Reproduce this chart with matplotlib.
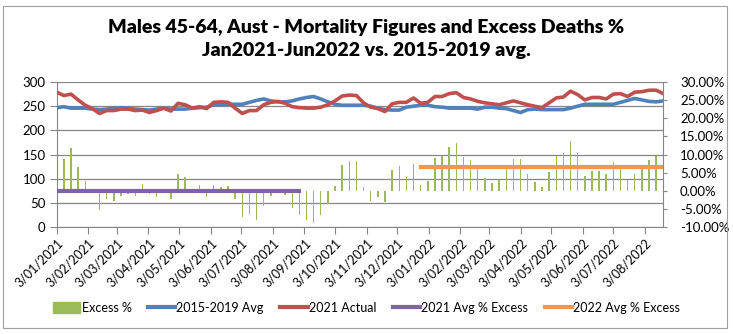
import matplotlib.pyplot as plt
from matplotlib.lines import Line2D
from matplotlib.patches import Patch, Rectangle
import numpy as np
import pandas as pd

plt.rcParams['font.family'] = ['Lato', 'DejaVu Sans']

# weekly series, Jan 2021 - Aug 2022
weeks = pd.date_range('2021-01-03', periods=86, freq='7D')

excess_pct = [
    12.8, 8.7, 11.7, 6.5, 2.7, 0.2, -5.2, -2.2, -2.8, -1.4,
    -0.8, -1.4, 1.8, -0.8, -1.7, 0.2, -2.2, 4.6, 3.8, 0.2,
    1.6, -1.7, 1.6, 1.0, 1.3, -2.2, -7.2, -6.3, -8.0, -4.1,
    -1.4, -0.6, -1.1, -4.7, -6.6, -8.0, -8.8, -6.6, -3.5, 1.3,
    7.1, 8.2, 8.2, 1.0, -2.8, -1.7, -3.0, 5.7, 6.8, 3.8,
    7.3, 1.6, 2.7, 9.0, 9.5, 12.0, 13.1, 9.3, 8.4, 6.5,
    3.5, 2.1, 2.9, 6.0, 8.7, 8.7, 4.6, 2.4, 1.0, 5.1,
    9.5, 10.4, 13.7, 10.4, 4.0, 5.4, 5.4, 4.6, 7.9, 6.2,
    2.9, 4.6, 6.2, 8.4, 9.5, np.nan,
]

avg_2015_2019 = [
    247, 249, 246, 246, 246, 244, 243, 244, 246, 247,
    246, 244, 243, 242, 244, 246, 244, 244, 244, 246,
    247, 248, 253, 254, 254, 254, 254, 258, 262, 265,
    261, 259, 259, 261, 265, 268, 270, 265, 259, 254,
    252, 252, 252, 252, 250, 246, 243, 242, 242, 248,
    250, 252, 252, 249, 248, 246, 246, 246, 246, 244,
    248, 248, 246, 245, 241, 237, 243, 244, 243, 243,
    243, 243, 246, 250, 254, 254, 254, 254, 254, 258,
    262, 266, 263, 260, 259, 261,
]

actual_2021 = [
    279, 272, 275, 263, 252, 245, 235, 241, 241, 244,
    244, 241, 242, 237, 241, 246, 240, 256, 253, 246,
    249, 245, 258, 259, 258, 246, 235, 241, 241, 253,
    258, 260, 256, 249, 247, 246, 246, 248, 253, 261,
    271, 273, 272, 257, 248, 245, 239, 255, 258, 258,
    267, 256, 258, 270, 270, 276, 278, 268, 265, 260,
    257, 255, 253, 257, 261, 257, 253, 250, 247, 257,
    267, 269, 281, 274, 263, 268, 268, 265, 275, 276,
    270, 279, 280, 283, 283, 276,
]

avg_excess_2021 = 0.1
avg_excess_2022 = 6.65
weeks_2021 = weeks[0:35]
weeks_2022 = weeks[51:86]

tick_dates = pd.date_range('2021-01-01', '2022-08-01', freq='MS') + pd.Timedelta(days=2)
tick_labels = [f"{d.day}/{d.month:02d}/{d.year}" for d in tick_dates]

GREEN, BLUE, RED, PURPLE, ORANGE = '#9BBB59', '#4F81BD', '#C0504D', '#8064A2', '#F79646'
GRID = '#868686'

fig = plt.figure(figsize=(7.33, 3.34), dpi=100)
ax = fig.add_axes([0.0774, 0.3195, 0.8275, 0.435])
ax2 = ax.twinx()

# primary axis: deaths
ax.set_ylim(0, 300)
ax.set_yticks(range(0, 301, 50))
ax.grid(axis='y', color=GRID, lw=0.9)
ax.set_axisbelow(True)
ax.plot(weeks, avg_2015_2019, color=BLUE, lw=2.6, solid_joinstyle='round', zorder=3)
ax.plot(weeks, actual_2021, color=RED, lw=2.6, solid_joinstyle='round', zorder=3)

# secondary axis: excess %
ax2.set_ylim(-10, 30)
ax2.set_yticks(range(-10, 31, 5))
ax2.set_yticklabels([f"{v:.2f}%" for v in range(-10, 31, 5)])
ax2.bar(weeks, excess_pct, width=1.4, color=GREEN, zorder=2)
ax2.plot(weeks_2021, [avg_excess_2021] * len(weeks_2021), color=PURPLE, lw=3, zorder=3)
ax2.plot(weeks_2022, [avg_excess_2022] * len(weeks_2022), color=ORANGE, lw=3,
         solid_capstyle='projecting', zorder=3)

ax.set_xlim(weeks[0], weeks[-1])
ax.set_xticks(tick_dates)
ax.set_xticklabels(tick_labels, rotation=45, ha='right', rotation_mode='anchor')

for a in (ax, ax2):
    for s in a.spines.values():
        s.set_color(GRID)
ax.spines['top'].set_visible(False)
ax.spines['right'].set_visible(False)
ax2.spines['top'].set_visible(False)
ax2.spines['left'].set_visible(False)
ax2.spines['bottom'].set_visible(False)

ax.tick_params(axis='x', length=5, color=GRID, labelsize=9, pad=2)
ax.tick_params(axis='y', length=5, color=GRID, labelsize=9.5, pad=3)
ax2.tick_params(axis='y', length=3, color=GRID, labelsize=9.5, pad=9)

fig.text(0.5, 0.883, "Males 45-64, Aust - Mortality Figures and Excess Deaths %\n"
         "Jan2021-Jun2022 vs. 2015-2019 avg.",
         ha='center', va='center', fontsize=14, fontweight='heavy', linespacing=1.4)

handles = [
    Patch(color=GREEN),
    Line2D([], [], color=BLUE, lw=3),
    Line2D([], [], color=RED, lw=3),
    Line2D([], [], color=PURPLE, lw=3),
    Line2D([], [], color=ORANGE, lw=3),
]
labels = ['Excess %', '2015-2019 Avg', '2021 Actual', '2021 Avg % Excess', '2022 Avg % Excess']
fig.legend(handles, labels, ncol=5, loc='center', bbox_to_anchor=(0.5, 0.078),
           frameon=False, fontsize=9, handlelength=2.2, handleheight=0.9,
           handletextpad=0.1, columnspacing=1.3)

# chart area border
fig.add_artist(Rectangle((3 / 733, 6 / 334), 724 / 733, 322 / 334,
                         transform=fig.transFigure, fill=False, edgecolor='#a0a0a0', lw=0.8))

fig.savefig('out.png', dpi=100)
